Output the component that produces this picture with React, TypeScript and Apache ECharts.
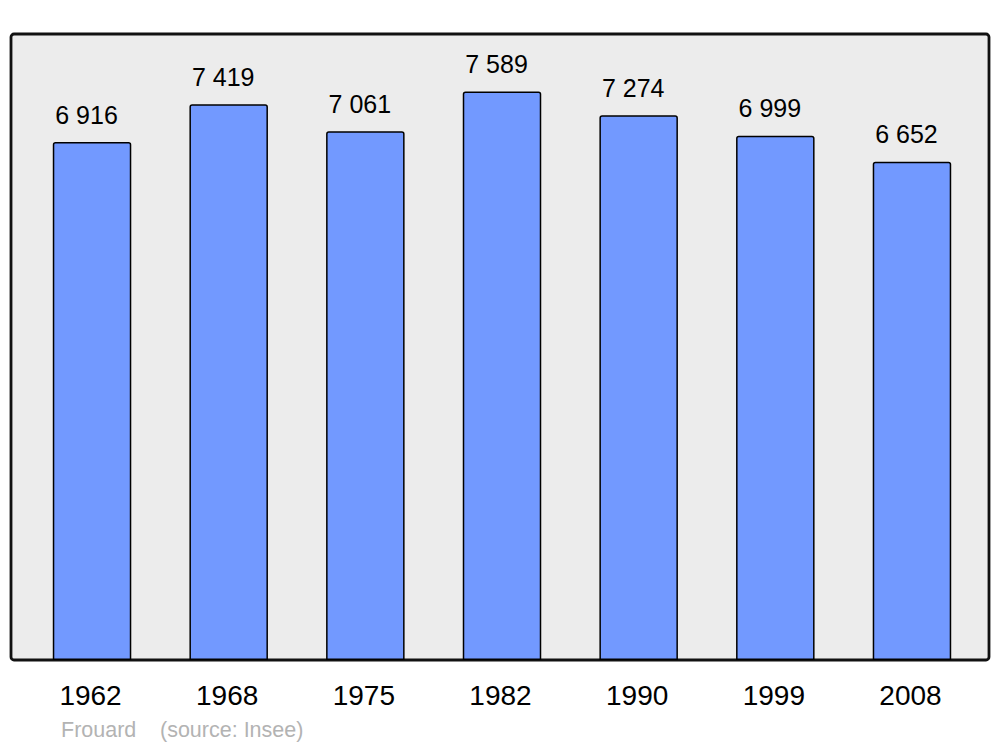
import React, { useEffect, useRef } from "react";
import * as echarts from "echarts";

const years = ["1962", "1968", "1975", "1982", "1990", "1999", "2008"];
const population = [6916, 7419, 7061, 7589, 7274, 6999, 6652];
const townName = "Frouard";
const sourceText = "(source: Insee)";

const fmt = (v: number) => {
  const s = String(v);
  return s.replace(/\B(?=(\d{3})+(?!\d))/g, " ");
};

const FONT = "Liberation Sans, Arial, sans-serif";

export default function App() {
  const ref = useRef<HTMLDivElement>(null);
  useEffect(() => {
    if (!ref.current) return;
    const chart = echarts.init(ref.current, null, { renderer: "svg" });
    chart.setOption({
      animation: false,
      backgroundColor: "#ffffff",
      textStyle: { fontFamily: FONT },
      grid: { left: 23.7, right: 19.7, top: 34, bottom: 87 },
      graphic: [
        {
          type: "rect",
          z: -10,
          shape: { x: 11, y: 34, width: 978, height: 626, r: 3 },
          style: { fill: "#ececec", stroke: "#111111", lineWidth: 2.8 },
        },
        {
          type: "text",
          x: 61,
          y: 730,
          style: {
            text: townName,
            fill: "#b3b3b3",
            fontSize: 21.5,
            fontFamily: FONT,
            verticalAlign: "middle",
          },
        },
        {
          type: "text",
          x: 160,
          y: 730,
          style: {
            text: sourceText,
            fill: "#b3b3b3",
            fontSize: 21.5,
            fontFamily: FONT,
            verticalAlign: "middle",
          },
        },
      ],
      xAxis: {
        type: "category",
        data: years,
        axisLine: { show: false },
        axisTick: { show: false },
        axisLabel: {
          color: "#000000",
          fontSize: 28,
          margin: 21,
          fontFamily: FONT,
          padding: [0, 3, 0, 0],
        },
      },
      yAxis: {
        type: "value",
        min: 0,
        max: 8358,
        show: false,
        splitLine: { show: false },
      },
      series: [
        {
          type: "bar",
          data: population,
          barWidth: 78.5,
          z: 2,
          itemStyle: {
            color: "#7299ff",
            borderColor: "#000000",
            borderWidth: 1.5,
            borderRadius: [2, 2, 0, 0],
          },
          label: {
            show: true,
            position: "top",
            distance: 15,
            offset: [-5.5, 0],
            color: "#000000",
            fontSize: 25,
            fontFamily: FONT,
            formatter: (p: any) => fmt(p.value),
          },
        },
      ],
    });
    return () => chart.dispose();
  }, []);
  return <div ref={ref} style={{ width: 1000, height: 747, position: "absolute", left: 0, top: 0 }} />;
}
